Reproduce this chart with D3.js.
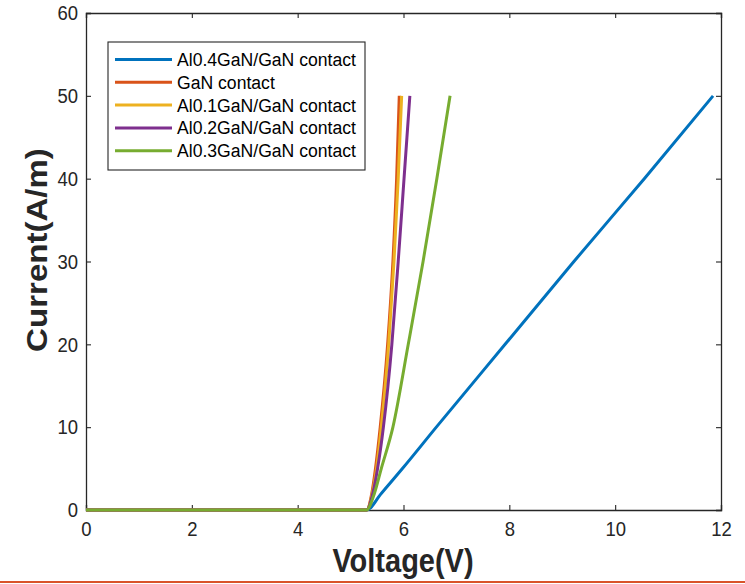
<!DOCTYPE html>
<html>
<head>
<meta charset="utf-8">
<script src="https://cdn.jsdelivr.net/npm/d3@7"></script>
<style>
  body { margin: 0; background: #fff; }
  svg { display: block; font-family: "Liberation Sans", Arial, sans-serif; }
</style>
</head>
<body>
<div id="chart"></div>
<script>
var width = 745;
var height = 584;
var margin = { top: 13, right: 24, bottom: 74, left: 86 };

// current values (A/m) at which voltages were read
var currents = [0, 0, 2, 5, 10, 20, 30, 40, 50];

var seriesNames = ["Al0.4GaN/GaN contact", "GaN contact", "Al0.1GaN/GaN contact",
                   "Al0.2GaN/GaN contact", "Al0.3GaN/GaN contact"];
var seriesColors = ["#0072BD", "#D95319", "#EDB120", "#7E2F8E", "#77AC30"];

// voltage (V) of each series at the currents above
var vAl04 = [0, 5.3, 5.58, 5.98, 6.62, 7.92, 9.22, 10.55, 11.85];
var vGaN  = [0, 5.3, 5.40, 5.47, 5.56, 5.70, 5.80, 5.87, 5.92];
var vAl01 = [0, 5.3, 5.41, 5.49, 5.58, 5.72, 5.82, 5.90, 5.965];
var vAl02 = [0, 5.3, 5.42, 5.51, 5.62, 5.78, 5.90, 6.01, 6.12];
var vAl03 = [0, 5.3, 5.45, 5.58, 5.80, 6.09, 6.37, 6.63, 6.88];
var voltages = [vAl04, vGaN, vAl01, vAl02, vAl03];

var xTicks = [0, 2, 4, 6, 8, 10, 12];
var yTicks = [0, 10, 20, 30, 40, 50, 60];

var svg = d3.select("#chart").append("svg")
  .attr("width", width)
  .attr("height", height);

var pw = width - margin.left - margin.right;   // 635
var ph = height - margin.top - margin.bottom;  // 497

var x = d3.scaleLinear().domain([0, 12]).range([0, pw]);
var y = d3.scaleLinear().domain([0, 60]).range([ph, 0]);

var g = svg.append("g")
  .attr("transform", "translate(" + margin.left + "," + margin.top + ")");

var tickColor = "#262626";
var stretch = 1.13; // the picture looks a bit taller than wide

var xAxis = g.append("g")
  .attr("transform", "translate(0," + ph + ")")
  .call(d3.axisBottom(x).tickValues(xTicks).tickSize(-5).tickPadding(10));
var yAxis = g.append("g")
  .call(d3.axisLeft(y).tickValues(yTicks).tickSize(-5).tickPadding(8));
var xTop = g.append("g")
  .call(d3.axisTop(x).tickValues(xTicks).tickSize(-5).tickFormat(""));
var yRight = g.append("g")
  .attr("transform", "translate(" + pw + ",0)")
  .call(d3.axisRight(y).tickValues(yTicks).tickSize(-5).tickFormat(""));

[xAxis, yAxis, xTop, yRight].forEach(function (a) {
  a.select(".domain").attr("stroke", tickColor).attr("stroke-width", 1.3);
  a.selectAll(".tick line").attr("stroke", tickColor).attr("stroke-width", 1.1);
  a.selectAll(".tick text")
    .attr("fill", tickColor)
    .attr("transform", "scale(1," + stretch + ")")
    .style("font-size", "18.5px")
    .style("font-family", "'Liberation Sans', Arial, sans-serif");
});

// lines
var line = d3.line()
  .curve(d3.curveMonotoneX)
  .x(function (d) { return x(d[0]); })
  .y(function (d) { return y(d[1]); });

voltages.forEach(function (vs, i) {
  var pts = vs.map(function (v, k) { return [v, currents[k]]; });
  g.append("path")
    .datum(pts)
    .attr("fill", "none")
    .attr("stroke", seriesColors[i])
    .attr("stroke-width", 3)
    .attr("stroke-linejoin", "round")
    .attr("d", line);
});

// legend
var lg = svg.append("g").attr("transform", "translate(108,42)");
lg.append("rect")
  .attr("width", 257).attr("height", 128)
  .attr("fill", "#fff")
  .attr("stroke", tickColor).attr("stroke-width", 1.1);
seriesNames.forEach(function (name, i) {
  var yy = 17.5 + i * 22.8;
  lg.append("line")
    .attr("x1", 7).attr("x2", 64)
    .attr("y1", yy).attr("y2", yy)
    .attr("stroke", seriesColors[i]).attr("stroke-width", 3);
  lg.append("text")
    .attr("transform", "translate(69," + (yy + 6.5) + ") scale(1,1.06)")
    .attr("fill", "#000")
    .style("font-size", "17.6px")
    .text(name);
});

// axis labels
svg.append("text")
  .attr("transform", "translate(403,572) scale(1," + 1.12 + ")")
  .attr("text-anchor", "middle")
  .attr("fill", "#262626")
  .style("font-size", "29px").style("font-weight", "bold")
  .text("Voltage(V)");

svg.append("text")
  .attr("transform", "translate(47,250) rotate(-90) scale(1.14,1)")
  .attr("text-anchor", "middle")
  .attr("fill", "#262626")
  .style("font-size", "29px").style("font-weight", "bold")
  .text("Current(A/m)");

// thin red strip at the bottom edge of the picture
svg.append("rect")
  .attr("x", 0).attr("y", 581)
  .attr("width", width).attr("height", 2)
  .attr("fill", "#d9532a");
</script>
</body>
</html>
